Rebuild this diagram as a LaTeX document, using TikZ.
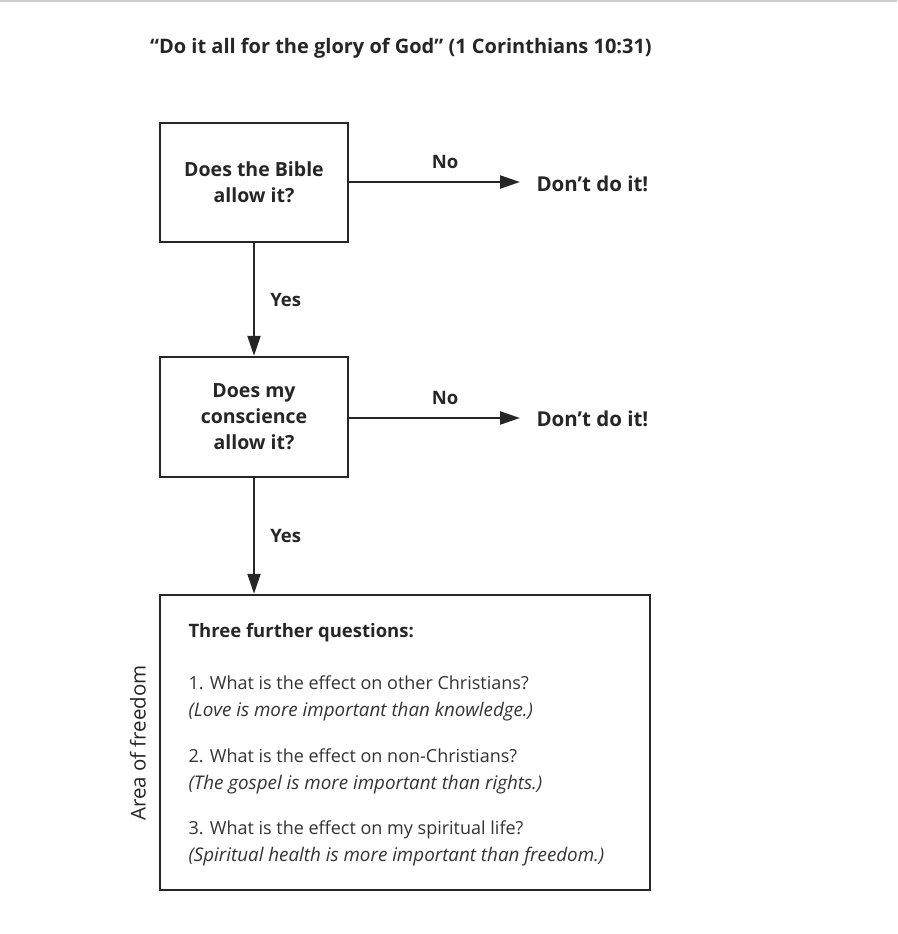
\documentclass[tikz,border=0pt]{standalone}
\usepackage{fontspec}
\setmainfont{Open Sans}
\usetikzlibrary{arrows.meta}
\tikzset{
  qbox/.style={draw=black!85, line width=2.4pt},
  qtext/.style={font=\fontsize{19.5}{26}\selectfont\bfseries, align=center, text=black!85},
  flow/.style={draw=black!85, line width=2pt, -{Triangle[length=20pt,width=13pt]}},
  lab/.style={font=\fontsize{18.5}{22}\selectfont\bfseries, text=black!85},
  body/.style={font=\fontsize{18}{27}\selectfont, text=black!80, anchor=west, align=left}
}
\newcommand{\itl}[1]{{\fontsize{18.8}{27}\selectfont\itshape #1}}
\begin{document}
\begin{tikzpicture}[x=1pt,y=-1pt]
\fill[white] (0,0) rectangle (897,934);
\useasboundingbox (0,0) rectangle (897,934);
\draw[black!20, line width=2pt] (0,1) -- (897,1);
\node[font=\fontsize{20}{24}\selectfont\bfseries, text=black!85] (title) at (401,48) {“Do it all for the glory of God” (1 Corinthians 10:31)};
% boxes
\node[qbox, minimum width=188pt, minimum height=119pt] (b1) at (254,182.5) {};
\node[qtext] at (254,182.5) {Does the Bible\\allow it?};
\node[qbox, minimum width=188pt, minimum height=120pt] (b2) at (254,417) {};
\node[qtext] at (254,417) {Does my\\conscience\\allow it?};
\node[qbox, minimum width=490pt, minimum height=295pt] (b3) at (405,742.5) {};
% targets
\node[lab, font=\fontsize{20.5}{24}\selectfont\bfseries, anchor=west] (d1) at (533,184) {Don’t do it!};
\node[lab, font=\fontsize{20.5}{24}\selectfont\bfseries, anchor=west] (d2) at (533,419) {Don’t do it!};
% arrows
\draw[flow, shorten >=13pt] (b1.east |- 0,182) -- node[lab, above=9pt, xshift=4pt] {No} (d1.west |- 0,182);
\draw[flow, shorten >=13pt] (b2.east |- 0,418) -- node[lab, above=9pt, xshift=4pt] {No} (d2.west |- 0,418);
\draw[flow] (b1.south) -- node[lab, right=12pt] {Yes} (b2.north);
\draw[flow] (b2.south) -- node[lab, right=12pt] {Yes} (b3.north -| b2.south);
% box 3 content
\node[lab, anchor=west] (h) at (185,633) {Three further questions:};
\node[body] (q1) at (185,698) {1. What is the effect on other Christians?\\\itl{(Love is more important than knowledge.)}};
\node[body] (q2) at (185,771) {2. What is the effect on non-Christians?\\\itl{(The gospel is more important than rights.)}};
\node[body] (q3) at (185,843.5) {3. What is the effect on my spiritual life?\\\itl{(Spiritual health is more important than freedom.)}};
\node[font=\fontsize{20.5}{24}\selectfont, text=black!85, rotate=90] (area) at (138,743) {Area of freedom};
\end{tikzpicture}
\end{document}
